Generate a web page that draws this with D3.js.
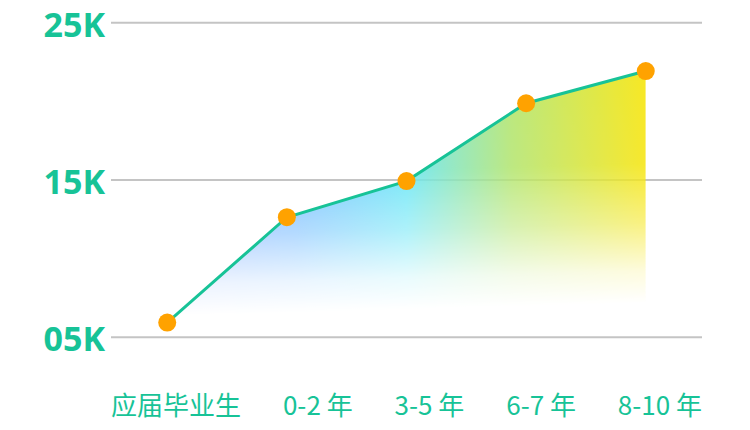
<!DOCTYPE html>
<html>
<head>
<meta charset="utf-8">
<script src="https://cdn.jsdelivr.net/npm/d3@7"></script>
<style>
  html, body { margin: 0; padding: 0; background: #fff; }
  svg { display: block; }
</style>
</head>
<body>
<svg id="chart"></svg>
<script>
const width = 750
const height = 430

// data
const categories = ['应届毕业生', '0-2 年', '3-5 年', '6-7 年', '8-10 年']
const salaries = [5.9, 12.6, 14.9, 19.85, 21.9] // K
const yTicks = [5, 15, 25]

const green = '#17c397'
const plot = { left: 111, right: 702, top: 22.3, bottom: 336.7 }

const svg = d3.select('#chart').attr('width', width).attr('height', height)

const x = d3.scalePoint()
  .domain(categories)
  .range([plot.left, plot.right])
  .padding(0.47)

const y = d3.scaleLinear()
  .domain([5, 25])
  .range([plot.bottom, plot.top])

const data = categories.map((c, i) => ({ c, v: salaries[i] }))

// gradients
const defs = svg.append('defs')

const colorGrad = defs.append('linearGradient')
  .attr('id', 'areaColor')
  .attr('x1', 0).attr('y1', 0).attr('x2', 1).attr('y2', 0)
;[
  [0, '#8aa8ff'],
  [0.27, '#76bcff'],
  [0.5, '#6ae6f6'],
  [0.72, '#b6e674'],
  [1, '#f6e617']
].forEach(([o, c]) => colorGrad.append('stop').attr('offset', o).attr('stop-color', c))

const fadeGrad = defs.append('linearGradient')
  .attr('id', 'areaFade')
  .attr('x1', 0).attr('y1', 0).attr('x2', 0.05).attr('y2', 1)
;[
  [0, 0.95],
  [0.4, 0.9],
  [0.62, 0.55],
  [0.8, 0.15],
  [0.92, 0]
].forEach(([o, a]) => fadeGrad.append('stop').attr('offset', o)
  .attr('stop-color', '#fff').attr('stop-opacity', a))

const mask = defs.append('mask').attr('id', 'fadeMask')
  .attr('maskContentUnits', 'objectBoundingBox')
mask.append('rect')
  .attr('x', 0).attr('y', 0).attr('width', 1).attr('height', 1)
  .attr('fill', 'url(#areaFade)')

// grid + y labels (under the area)
const yAxis = d3.axisLeft(y)
  .tickValues(yTicks)
  .tickSize(-(plot.right - plot.left))
  .tickPadding(6)
  .tickFormat(d => d3.format('02d')(d) + 'K')

const gy = svg.append('g')
  .attr('transform', `translate(${plot.left},0)`)
  .call(yAxis)
gy.select('.domain').remove()
gy.selectAll('.tick line')
  .attr('stroke', '#c4c4c4')
  .attr('stroke-width', 2)
gy.selectAll('.tick text')
  .attr('fill', green)
  .attr('font-family', '"Noto Sans", "Open Sans", sans-serif')
  .attr('font-weight', 'bold')
  .attr('font-size', 34)
  .attr('dy', '0.41em')

// area
const area = d3.area()
  .x(d => x(d.c))
  .y0(y(5))
  .y1(d => y(d.v))

svg.append('path')
  .datum(data)
  .attr('d', area)
  .attr('fill', 'url(#areaColor)')
  .attr('mask', 'url(#fadeMask)')

// line
const line = d3.line()
  .x(d => x(d.c))
  .y(d => y(d.v))

svg.append('path')
  .datum(data)
  .attr('d', line)
  .attr('fill', 'none')
  .attr('stroke', green)
  .attr('stroke-width', 3)

svg.append('g')
  .selectAll('circle')
  .data(data)
  .join('circle')
  .attr('cx', d => x(d.c))
  .attr('cy', d => y(d.v))
  .attr('r', 9)
  .attr('fill', '#ffa200')

// x labels, spread between the grid ends
const xl = svg.append('g')
  .attr('font-family', '"Noto Sans CJK SC", "Noto Sans", sans-serif')
  .attr('font-size', 26)
  .attr('fill', green)

const labels = xl.selectAll('text')
  .data(categories)
  .join('text')
  .attr('y', 415)
  .text(d => d)

const widths = labels.nodes().map(n => n.getComputedTextLength())
const gap = (plot.right - plot.left - d3.sum(widths)) / (categories.length - 1)
let cx = plot.left
labels.attr('x', (d, i) => {
  const pos = cx
  cx += widths[i] + gap
  return pos
})
</script>
</body>
</html>
